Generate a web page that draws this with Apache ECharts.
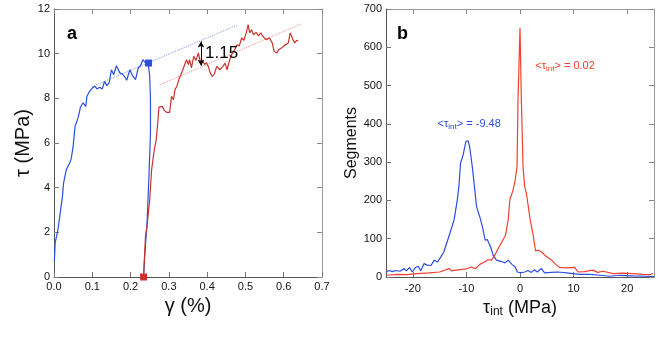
<!DOCTYPE html>
<html>
<head>
<meta charset="utf-8">
<script src="https://cdn.jsdelivr.net/npm/echarts@6/dist/echarts.min.js"></script>
<style>
  html, body { margin: 0; padding: 0; background: #fff; }
  #chart { width: 664px; height: 341px; }
</style>
</head>
<body>
<div id="chart"></div>
<script>
// panel a: stress-strain curves
const blueGamma = [0.001, 0.003, 0.008, 0.010, 0.015, 0.022, 0.025, 0.032, 0.041, 0.045,
  0.050, 0.055, 0.060, 0.064, 0.069, 0.076, 0.083, 0.086, 0.093, 0.100,
  0.107, 0.112, 0.119, 0.126, 0.132, 0.138, 0.144, 0.150, 0.156, 0.163,
  0.172, 0.178, 0.184, 0.190, 0.198, 0.205, 0.213, 0.220, 0.226, 0.232,
  0.238, 0.246, 0.250, 0.252, 0.252, 0.248, 0.243, 0.237, 0.234]
const blueTau = [0.71, 1.53, 1.60, 2.10, 2.70, 3.60, 4.20, 4.80, 5.10, 5.30,
  5.85, 6.75, 6.97, 7.20, 7.60, 7.80, 7.64, 8.09, 8.31, 8.46,
  8.54, 8.42, 8.50, 8.42, 8.76, 8.57, 8.69, 9.28, 9.06, 9.46,
  9.14, 9.10, 8.98, 8.81, 9.28, 9.02, 8.84, 9.36, 9.46, 9.73,
  9.61, 9.58, 8.98, 7.94, 6.45, 4.50, 2.42, 0.93, 0.05]
const redGamma = [0.234, 0.239, 0.243, 0.250, 0.255, 0.259, 0.262, 0.267, 0.271, 0.274,
  0.283, 0.288, 0.295, 0.302, 0.307, 0.312, 0.316, 0.321, 0.326, 0.331,
  0.335, 0.340, 0.346, 0.351, 0.354, 0.359, 0.365, 0.371, 0.377, 0.382,
  0.388, 0.393, 0.398, 0.403, 0.408, 0.413, 0.419, 0.425, 0.433, 0.441,
  0.447, 0.452, 0.459, 0.466, 0.472, 0.478, 0.484, 0.490, 0.496, 0.502,
  0.507, 0.511, 0.516, 0.521, 0.528, 0.534, 0.540, 0.546, 0.554, 0.563,
  0.570, 0.575, 0.582, 0.587, 0.594, 0.601, 0.606, 0.612, 0.617, 0.624,
  0.629, 0.634, 0.638]
const redTau = [0.05, 1.83, 2.27, 3.47, 4.81, 4.89, 5.70, 6.15, 6.90, 7.61,
  7.64, 7.46, 7.37, 7.37, 8.09, 7.94, 8.39, 8.54, 8.84, 8.91,
  9.21, 9.25, 9.73, 9.51, 9.73, 9.36, 9.88, 9.70, 10.03, 9.66,
  9.70, 9.51, 9.60, 9.43, 9.14, 8.98, 9.10, 9.43, 9.28, 9.43,
  9.58, 9.28, 9.73, 10.03, 10.18, 10.40, 10.35, 10.70, 10.60, 10.93,
  11.30, 10.93, 11.07, 10.85, 10.95, 10.80, 10.93, 10.77, 10.63, 10.70,
  10.48, 10.10, 10.03, 10.18, 10.25, 10.36, 10.30, 10.48, 10.93, 10.63,
  10.48, 10.60, 10.57]
const blueFitGamma = [0.10, 0.48]
const blueFitTau = [8.53, 11.29]
const redFitGamma = [0.276, 0.646]
const redFitTau = [8.60, 11.34]
const blueMarker = [0.247, 9.58]
const redMarker = [0.234, 0]
const gapArrow = [[0.384, 10.55], [0.384, 9.46]]
const gapLabel = '1.15'

// panel b: histograms of tau_int
const histBlueX = [-25, -24.4, -23.8, -23.2, -22.4, -21.6, -21.2, -20.6, -20.1, -19.5,
  -19, -18.5, -17.9, -17.3, -16.6, -16, -15.4, -14.8, -14.2, -13.5,
  -12.9, -12.3, -11.7, -11.4, -11.1, -10.6, -10.1, -9.7, -9.4, -8.9,
  -8.5, -8.1, -7.5, -7, -6.5, -6.1, -5.5, -5, -4.4, -3.6,
  -2.8, -2.2, -1.5, -0.9, -0.5, 0, 0.9, 1.5, 2.1, 2.7,
  3.2, 4, 4.6, 5.8, 7.1, 8.7, 11.1, 13, 14.9, 16.7,
  18.6, 21.1, 23.6, 25]
const histBlueY = [13, 17, 14, 17, 15, 22, 16, 25, 13, 25,
  28, 16, 35, 31, 30, 44, 39, 52, 66, 96,
  122, 149, 201, 236, 297, 319, 354, 356, 341, 288,
  236, 183, 157, 131, 96, 98, 79, 57, 44, 41,
  37, 44, 33, 26, 13, 11, 13, 17, 12, 19,
  13, 22, 11, 12, 13, 11, 7, 7, 4.5, 2,
  4.5, 3, 2, 1]
const histRedX = [-24.9, -23, -21, -19.3, -17, -15, -13.2, -12.8, -11.9, -10,
  -9.1, -8.3, -7.5, -6.6, -6, -5.3, -4.7, -4.1, -3.5, -2.7,
  -2.2, -1.9, -1.3, -0.9, -0.55, -0.37, 0, 0.25, 0.57, 0.87,
  1.2, 1.9, 2.4, 2.9, 3.4, 4, 4.6, 5.2, 5.9, 6.5,
  7.4, 8.7, 10.2, 10.8, 12, 13.6, 14.5, 15.5, 17.4, 19.2,
  21.1, 22.9, 24.2, 24.8]
const histRedY = [4.5, 7, 6, 9, 11, 13, 22, 16, 18, 21,
  26, 22, 33, 39, 45, 44, 57, 74, 89, 109,
  149, 201, 227, 253, 288, 463, 651, 463, 288, 236,
  218, 149, 114, 68, 70, 66, 57, 51, 44, 35,
  25, 24, 25, 13, 14, 18, 12, 15, 9, 10,
  9, 7, 6, 9]
const meanBlue = -9.48
const meanRed = 0.02
const xTicksB = [-20, -10, 0, 10, 20]

const FONT = 'Liberation Sans'
const BLUE = '#2b4ee0'
const RED_A = '#c8342b'
const RED_B = '#f0402f'

function zip(xs, ys) {
  const out = []
  for (let i = 0; i < xs.length; i++) {
    out.push([xs[i], ys[i]])
  }
  return out
}

function frameAxis(extra) {
  return Object.assign({
    type: 'value',
    axisLine: { show: true, onZero: false, lineStyle: { color: '#999', width: 1 } },
    axisTick: { show: true, inside: true, length: 5, lineStyle: { color: '#888' } },
    axisLabel: { show: false },
    splitLine: { show: false }
  }, extra)
}

function mainAxis(extra) {
  return Object.assign({
    type: 'value',
    axisLine: { show: true, onZero: false, lineStyle: { color: '#555', width: 1 } },
    axisTick: { show: true, inside: true, length: 5, lineStyle: { color: '#777' } },
    axisLabel: { color: '#111', fontFamily: FONT, fontSize: 11, margin: 4 },
    splitLine: { show: false },
    nameLocation: 'middle',
    nameTextStyle: { color: '#111', fontFamily: FONT, fontSize: 20 }
  }, extra)
}

const chart = echarts.init(document.getElementById('chart'))
chart.setOption({
  backgroundColor: '#fff',
  animation: false,
  title: [{
    text: 'a',
    left: 62,
    top: 20,
    textStyle: { fontFamily: FONT, fontWeight: 'bold', fontSize: 18, color: '#000' }
  }, {
    text: 'b',
    left: 392,
    top: 20,
    textStyle: { fontFamily: FONT, fontWeight: 'bold', fontSize: 18, color: '#000' }
  }],
  grid: [
    { left: 54, top: 9, width: 268, height: 268, outerBoundsMode: 'none' },
    { left: 386, top: 9, width: 268, height: 268, outerBoundsMode: 'none' }
  ],
  xAxis: [
    mainAxis({
      gridIndex: 0, min: 0, max: 0.7, interval: 0.1,
      name: 'γ (%)', nameGap: 19,
      axisLabel: { color: '#111', fontFamily: FONT, fontSize: 11, margin: 4, formatter: v => v.toFixed(1) }
    }),
    frameAxis({ gridIndex: 0, position: 'top', min: 0, max: 0.7, interval: 0.1 }),
    mainAxis({
      gridIndex: 1, min: -25, max: 25,
      name: '{t|τ}{s|int} (MPa)', nameGap: 18,
      nameTextStyle: {
        color: '#111', fontFamily: FONT, fontSize: 18,
        rich: {
          t: { fontFamily: FONT, fontSize: 18, color: '#111' },
          s: { fontFamily: FONT, fontSize: 12, color: '#111', verticalAlign: 'bottom', padding: [8, 0, 0, 0] }
        }
      },
      axisTick: { show: true, inside: true, length: 5, lineStyle: { color: '#777' }, customValues: xTicksB },
      axisLabel: { color: '#111', fontFamily: FONT, fontSize: 11, margin: 6, customValues: xTicksB }
    }),
    frameAxis({
      gridIndex: 1, position: 'top', min: -25, max: 25,
      axisTick: { show: true, inside: true, length: 5, lineStyle: { color: '#888' }, customValues: xTicksB }
    })
  ],
  yAxis: [
    mainAxis({
      gridIndex: 0, min: 0, max: 12, interval: 2,
      name: 'τ (MPa)', nameGap: 16
    }),
    frameAxis({ gridIndex: 0, position: 'right', min: 0, max: 12, interval: 2 }),
    mainAxis({
      gridIndex: 1, min: 0, max: 700, interval: 100,
      name: 'Segments', nameGap: 24,
      nameTextStyle: { color: '#111', fontFamily: FONT, fontSize: 16 }
    }),
    frameAxis({ gridIndex: 1, position: 'right', min: 0, max: 700, interval: 100 })
  ],
  series: [
    {
      type: 'line', xAxisIndex: 0, yAxisIndex: 0,
      data: zip(blueFitGamma, blueFitTau),
      showSymbol: false, silent: true,
      lineStyle: { color: '#7d97f0', width: 1, type: 'dotted' }
    },
    {
      type: 'line', xAxisIndex: 0, yAxisIndex: 0,
      data: zip(redFitGamma, redFitTau),
      showSymbol: false, silent: true,
      lineStyle: { color: '#ec8f88', width: 1, type: 'dotted' }
    },
    {
      type: 'line', xAxisIndex: 0, yAxisIndex: 0,
      data: zip(blueGamma, blueTau),
      showSymbol: false,
      lineStyle: { color: BLUE, width: 1.2 }
    },
    {
      type: 'line', xAxisIndex: 0, yAxisIndex: 0,
      data: zip(redGamma, redTau),
      showSymbol: false,
      lineStyle: { color: RED_A, width: 1.2 },
      markLine: {
        silent: true,
        symbol: ['arrow', 'arrow'],
        symbolSize: [5, 6],
        label: { show: false },
        lineStyle: { color: '#000', width: 1, type: 'solid' },
        data: [[{ coord: gapArrow[0] }, { coord: gapArrow[1] }]]
      },
      markPoint: {
        silent: true,
        symbol: 'circle',
        symbolSize: 0,
        data: [{
          coord: [gapArrow[0][0], (gapArrow[0][1] + gapArrow[1][1]) / 2],
          label: {
            show: true, position: 'right', distance: 4, formatter: gapLabel,
            fontFamily: FONT, fontSize: 17, color: '#000'
          }
        }]
      }
    },
    {
      type: 'scatter', xAxisIndex: 0, yAxisIndex: 0,
      data: [blueMarker], symbol: 'rect', symbolSize: 7, clip: false, z: 5,
      itemStyle: { color: BLUE, opacity: 1 }
    },
    {
      type: 'scatter', xAxisIndex: 0, yAxisIndex: 0,
      data: [redMarker], symbol: 'rect', symbolSize: 7, clip: false, z: 5,
      itemStyle: { color: RED_A, opacity: 1 }
    },
    {
      type: 'line', xAxisIndex: 2, yAxisIndex: 2,
      data: zip(histBlueX, histBlueY),
      showSymbol: false,
      lineStyle: { color: BLUE, width: 1.2 },
      markPoint: {
        silent: true, symbol: 'circle', symbolSize: 0,
        data: [{
          coord: [meanBlue, 400],
          label: {
            show: true, position: 'inside',
            formatter: '<{t|τ}{s|int}> = ' + meanBlue.toFixed(2),
            fontFamily: FONT, fontSize: 11, color: BLUE,
            rich: {
              t: { fontFamily: FONT, fontSize: 11, color: BLUE },
              s: { fontFamily: FONT, fontSize: 8, color: BLUE, verticalAlign: 'bottom', padding: [5, 0, 0, 0] }
            }
          }
        }]
      }
    },
    {
      type: 'line', xAxisIndex: 2, yAxisIndex: 2,
      data: zip(histRedX, histRedY),
      showSymbol: false,
      lineStyle: { color: RED_B, width: 1.2 },
      markPoint: {
        silent: true, symbol: 'circle', symbolSize: 0,
        data: [{
          coord: [8.4, 550],
          label: {
            show: true, position: 'inside',
            formatter: '<{t|τ}{s|int}> = ' + meanRed.toFixed(2),
            fontFamily: FONT, fontSize: 11, color: RED_B,
            rich: {
              t: { fontFamily: FONT, fontSize: 11, color: RED_B },
              s: { fontFamily: FONT, fontSize: 8, color: RED_B, verticalAlign: 'bottom', padding: [5, 0, 0, 0] }
            }
          }
        }]
      }
    }
  ]
})
</script>
</body>
</html>
